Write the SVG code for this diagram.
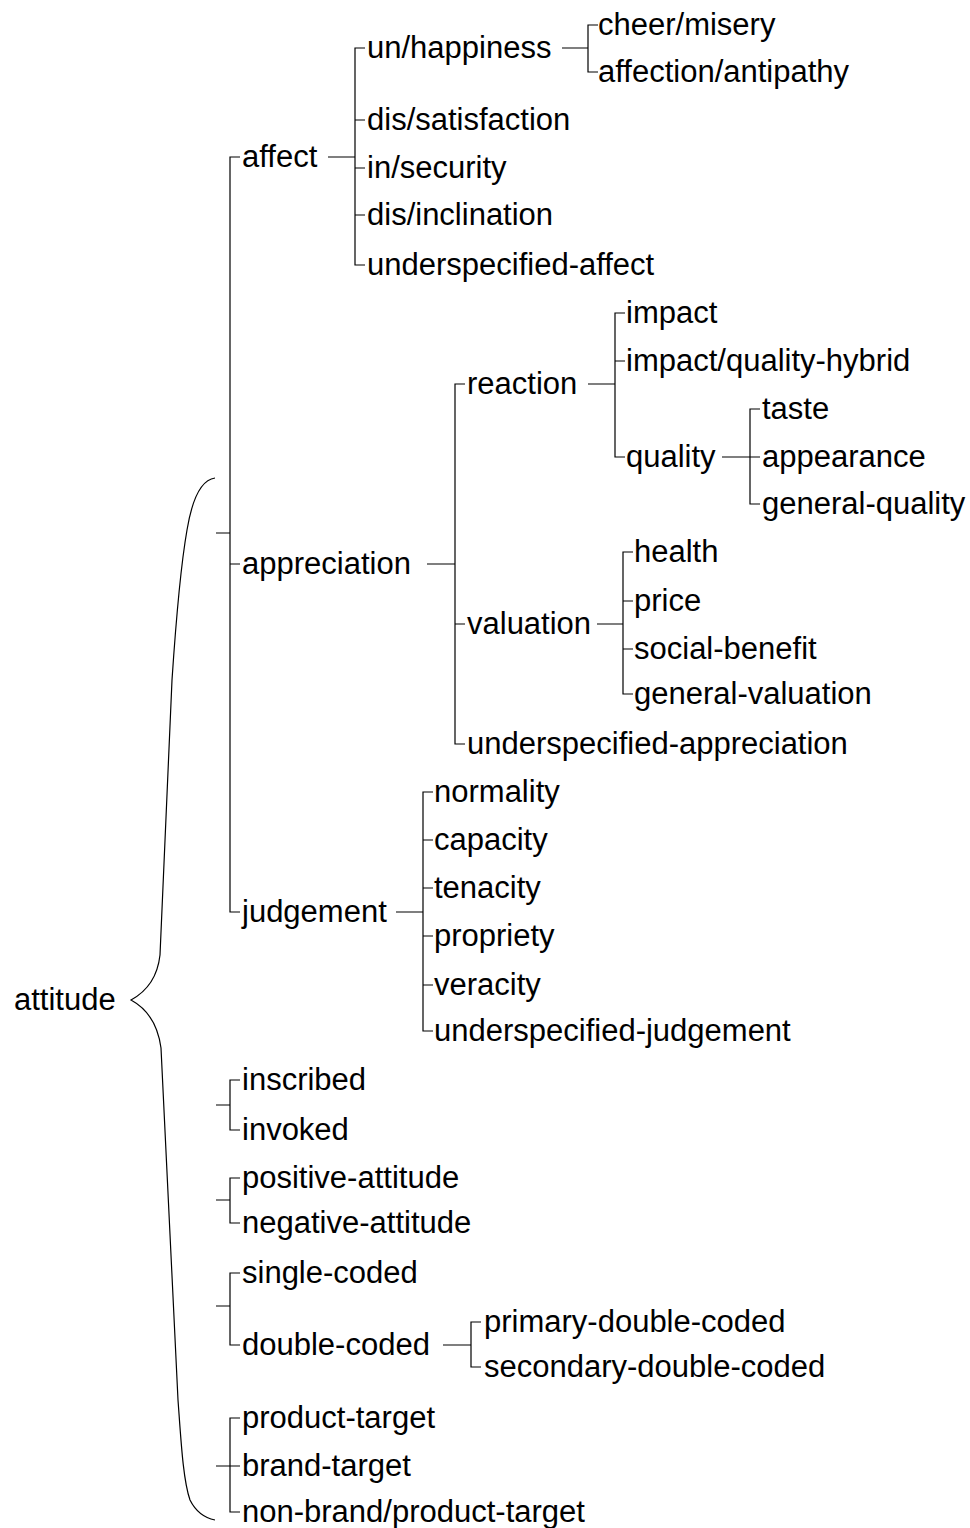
<svg xmlns="http://www.w3.org/2000/svg" width="970" height="1528" viewBox="0 0 970 1528">
<style>
text{font-family:"Liberation Sans",Arial,sans-serif;font-size:31px;fill:#000}
.c{fill:none;stroke:#000;stroke-width:1.2}
</style>
<rect width="970" height="1528" fill="#fff"/>
<g id="connectors" class="c">
<path d="M215,478 C200,480 192,500 187,530 C180,570 176,620 172,680 L160,955 C157,982 142,994 131,1000 C142,1006 157,1018 161,1048 L178,1400 C181,1440 183,1480 190,1500 C196,1512 205,1518 215,1520"/>
<path d="M216,533 H230 M240,157 H230 V912 H240 M230,564 H240"/>
<path d="M328,157 H355 M365,48 H355 V265 H365 M355,120 H365 M355,168 H365 M355,215 H365"/>
<path d="M562,48 H588 M598,25 H588 V72 H598"/>
<path d="M427,564 H455 M465,384 H455 V744 H465 M455,624 H465"/>
<path d="M588,384 H615 M625,313 H615 V457 H625 M615,361 H625"/>
<path d="M722,457 H750 M760,409 H750 V504 H760 M750,457 H760"/>
<path d="M597,624 H623 M633,552 H623 V694 H633 M623,601 H633 M623,649 H633"/>
<path d="M396,912 H423 M433,792 H423 V1031 H433 M423,840 H433 M423,888 H433 M423,936 H433 M423,985 H433"/>
<path d="M216,1105 H230 M240,1080 H230 V1130 H240"/>
<path d="M216,1200 H230 M240,1178 H230 V1223 H240"/>
<path d="M216,1306 H230 M240,1273 H230 V1345 H240"/>
<path d="M443,1345 H471 M481,1322 H471 V1367 H481"/>
<path d="M216,1466 H240 M240,1418 H230 V1512 H240"/>
</g>
<g id="n-attitude"><text x="14" y="1010">attitude</text></g>
<g id="n-affect"><text x="242" y="167">affect</text></g>
<g id="n-unhappiness"><text x="367" y="58">un/happiness</text></g>
<g id="n-cheer"><text x="598" y="35">cheer/misery</text></g>
<g id="n-affection"><text x="598" y="82">affection/antipathy</text></g>
<g id="n-dissatisfaction"><text x="367" y="130">dis/satisfaction</text></g>
<g id="n-insecurity"><text x="367" y="178">in/security</text></g>
<g id="n-disinclination"><text x="367" y="225">dis/inclination</text></g>
<g id="n-uaffect"><text x="367" y="275">underspecified-affect</text></g>
<g id="n-appreciation"><text x="242" y="574">appreciation</text></g>
<g id="n-reaction"><text x="467" y="394">reaction</text></g>
<g id="n-impact"><text x="626" y="323">impact</text></g>
<g id="n-hybrid"><text x="626" y="371">impact/quality-hybrid</text></g>
<g id="n-quality"><text x="626" y="467">quality</text></g>
<g id="n-taste"><text x="762" y="419">taste</text></g>
<g id="n-appearance"><text x="762" y="467">appearance</text></g>
<g id="n-gquality"><text x="762" y="514">general-quality</text></g>
<g id="n-valuation"><text x="467" y="634">valuation</text></g>
<g id="n-health"><text x="634" y="562">health</text></g>
<g id="n-price"><text x="634" y="611">price</text></g>
<g id="n-social"><text x="634" y="659">social-benefit</text></g>
<g id="n-gvaluation"><text x="634" y="704">general-valuation</text></g>
<g id="n-uappreciation"><text x="467" y="754">underspecified-appreciation</text></g>
<g id="n-judgement"><text x="242" y="922">judgement</text></g>
<g id="n-normality"><text x="434" y="802">normality</text></g>
<g id="n-capacity"><text x="434" y="850">capacity</text></g>
<g id="n-tenacity"><text x="434" y="898">tenacity</text></g>
<g id="n-propriety"><text x="434" y="946">propriety</text></g>
<g id="n-veracity"><text x="434" y="995">veracity</text></g>
<g id="n-ujudgement"><text x="434" y="1041">underspecified-judgement</text></g>
<g id="n-inscribed"><text x="242" y="1090">inscribed</text></g>
<g id="n-invoked"><text x="242" y="1140">invoked</text></g>
<g id="n-positive"><text x="242" y="1188">positive-attitude</text></g>
<g id="n-negative"><text x="242" y="1233">negative-attitude</text></g>
<g id="n-single"><text x="242" y="1283">single-coded</text></g>
<g id="n-double"><text x="242" y="1355">double-coded</text></g>
<g id="n-primary"><text x="484" y="1332">primary-double-coded</text></g>
<g id="n-secondary"><text x="484" y="1377">secondary-double-coded</text></g>
<g id="n-product"><text x="242" y="1428">product-target</text></g>
<g id="n-brand"><text x="242" y="1476">brand-target</text></g>
<g id="n-nonbrand"><text x="242" y="1522">non-brand/product-target</text></g>
</svg>
